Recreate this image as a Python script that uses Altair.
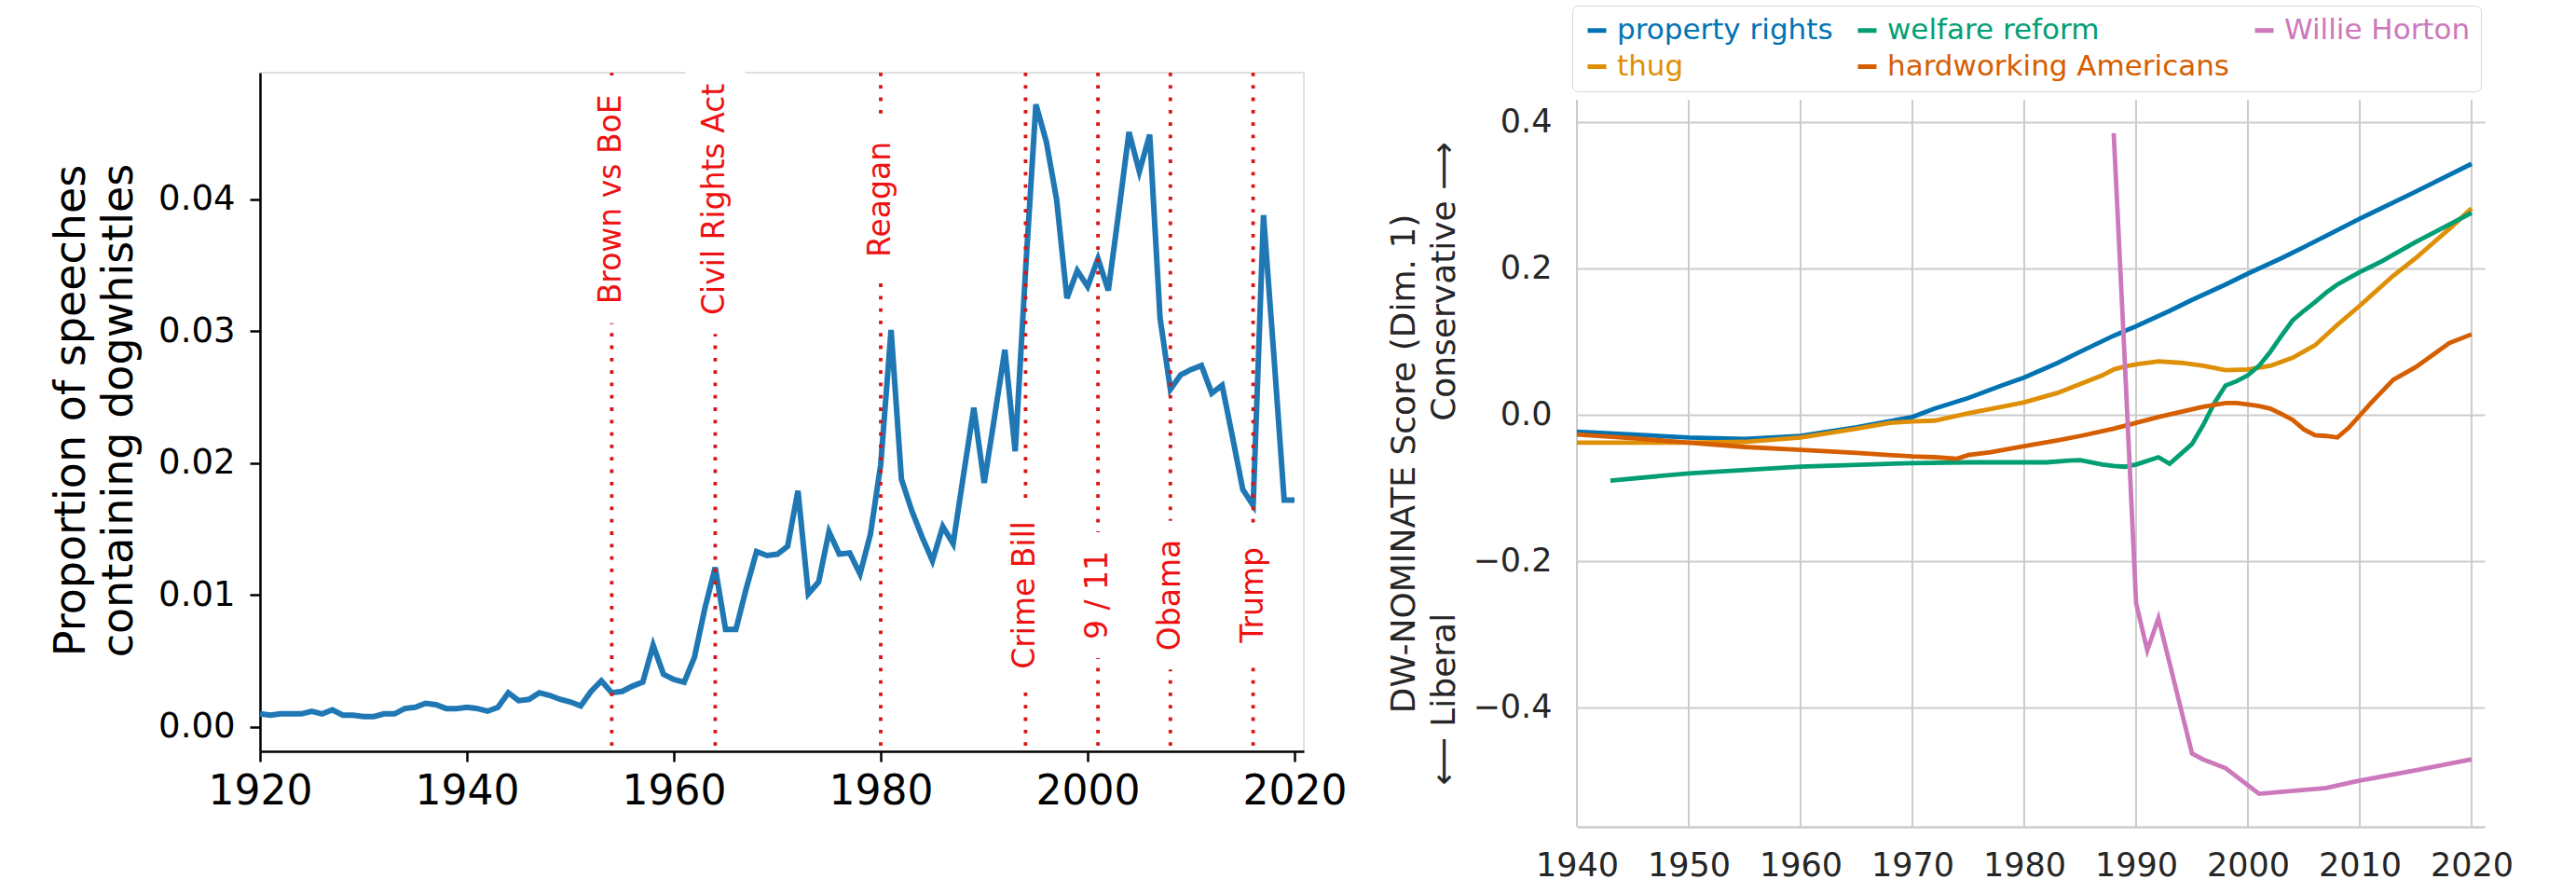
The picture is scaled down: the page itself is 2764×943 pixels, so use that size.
import altair as alt
import pandas as pd

# ---------------- Left panel data ----------------
left_years = list(range(1920, 2021))
dogwhistle_share = [
    0.0010, 0.0009, 0.0010, 0.0010, 0.0010, 0.0012, 0.0010, 0.0013, 0.0009, 0.0009,  # 1920s
    0.0008, 0.0008, 0.0010, 0.0010, 0.0014, 0.0015, 0.0018, 0.0017, 0.0014, 0.0014,  # 1930s
    0.0015, 0.0014, 0.0012, 0.0015, 0.0026, 0.0020, 0.0021, 0.0026, 0.0024, 0.0021,  # 1940s
    0.0019, 0.0016, 0.0027, 0.0035, 0.0026, 0.0027, 0.0031, 0.0034, 0.0062, 0.0040,  # 1950s
    0.0036, 0.0034, 0.0053, 0.0090, 0.0121, 0.0074, 0.0074, 0.0105, 0.0133, 0.0130,  # 1960s
    0.0131, 0.0137, 0.0179, 0.0101, 0.0110, 0.0148, 0.0131, 0.0132, 0.0116, 0.0146,  # 1970s
    0.0199, 0.0301, 0.0188, 0.0164, 0.0144, 0.0126, 0.0152, 0.0139, 0.0191, 0.0242,  # 1980s
    0.0185, 0.0235, 0.0286, 0.0209, 0.0346, 0.0472, 0.0444, 0.0400, 0.0325, 0.0346,  # 1990s
    0.0334, 0.0355, 0.0331, 0.0390, 0.0451, 0.0421, 0.0449, 0.0310, 0.0256, 0.0267,  # 2000s
    0.0271, 0.0274, 0.0253, 0.0259, 0.0220, 0.0180, 0.0168, 0.0388, 0.0282, 0.0172,  # 2010s
    0.0172,
]
event_names = ["Brown vs BoE", "Civil Rights Act", "Reagan", "Crime Bill", "9 / 11", "Obama", "Trump"]
event_years = [1954, 1964, 1980, 1994, 2001, 2008, 2016]
event_label_y = [0.04, 0.04, 0.04, 0.01, 0.01, 0.01, 0.01]
left_x_ticks = [1920, 1940, 1960, 1980, 2000, 2020]
left_y_ticks = [0.0, 0.01, 0.02, 0.03, 0.04]
left_y_title = ["Proportion of speeches", "containing dogwhistles"]

# ---------------- Right panel data ----------------
series_names = ["property rights", "thug", "welfare reform", "hardworking Americans", "Willie Horton"]
series_colors = ["#0173B2", "#DE8F05", "#029E73", "#D55E00", "#CC78BC"]
legend_order = ["property rights", "welfare reform", "Willie Horton", "thug", "hardworking Americans"]

pr_years = [1940, 1945, 1950, 1955, 1960, 1965, 1970, 1972, 1975, 1978, 1980, 1983, 1985, 1988,
            1990, 1993, 1995, 1998, 2000, 2003, 2005, 2010, 2015, 2020]
pr_vals = [-0.023, -0.027, -0.031, -0.033, -0.029, -0.017, -0.003, 0.0085, 0.023, 0.040, 0.051, 0.071,
           0.086, 0.108, 0.121, 0.142, 0.157, 0.178, 0.193, 0.214, 0.229, 0.268, 0.305, 0.343]

thug_years = [1940, 1945, 1950, 1955, 1960, 1965, 1968, 1970, 1972, 1975, 1978, 1980, 1983, 1985,
              1987, 1988, 1989, 1990, 1992, 1994, 1996, 1998, 2000, 2002, 2004, 2006, 2008, 2010,
              2013, 2015, 2018, 2020]
thug_vals = [-0.038, -0.038, -0.038, -0.037, -0.031, -0.019, -0.011, -0.009, -0.008, 0.002, 0.011,
             0.017, 0.030, 0.042, 0.054, 0.062, 0.066, 0.069, 0.073, 0.071, 0.067, 0.061, 0.062,
             0.067, 0.078, 0.095, 0.123, 0.149, 0.190, 0.214, 0.254, 0.282]

wr_years = [1943, 1950, 1960, 1970, 1975, 1980, 1982, 1984, 1985, 1987, 1988, 1989, 1990, 1992,
            1993, 1995, 1996, 1997, 1998, 1999, 2000, 2001, 2002, 2003, 2004, 2005, 2006, 2007,
            2008, 2010, 2012, 2015, 2020]
wr_vals = [-0.090, -0.080, -0.071, -0.066, -0.065, -0.065, -0.065, -0.0625, -0.062, -0.068, -0.070,
           -0.071, -0.068, -0.058, -0.067, -0.040, -0.014, 0.016, 0.040, 0.046, 0.054, 0.067,
           0.086, 0.108, 0.129, 0.142, 0.154, 0.167, 0.178, 0.195, 0.210, 0.236, 0.276]

hw_years = [1940, 1945, 1950, 1955, 1960, 1965, 1970, 1972, 1974, 1975, 1977, 1980, 1983, 1985,
            1988, 1990, 1992, 1994, 1996, 1998, 1999, 2000, 2001, 2002, 2003, 2004, 2005, 2006,
            2007, 2008, 2009, 2010, 2011, 2012, 2013, 2015, 2018, 2020]
hw_vals = [-0.027, -0.032, -0.038, -0.044, -0.048, -0.052, -0.057, -0.058, -0.060, -0.055, -0.051,
           -0.043, -0.035, -0.029, -0.019, -0.011, -0.003, 0.004, 0.011, 0.016, 0.016, 0.014,
           0.012, 0.0085, 0.001, -0.007, -0.020, -0.028, -0.029, -0.031, -0.018, -0.001, 0.016,
           0.032, 0.048, 0.065, 0.098, 0.110]

wh_years = [1988, 1989, 1990, 1991, 1992, 1995, 1996, 1998, 2001, 2007, 2010, 2015, 2020]
wh_vals = [0.385, 0.070, -0.257, -0.322, -0.278, -0.463, -0.471, -0.483, -0.518, -0.510, -0.500,
           -0.486, -0.471]

right_x_ticks = list(range(1940, 2021, 10))
right_y_ticks = [-0.4, -0.2, 0.0, 0.2, 0.4]
right_y_title = ["DW-NOMINATE Score (Dim. 1)",
                 "\u27f5 Liberal" + "\u00a0" * 18 + "Conservative \u27f6"]

# ---------------- Layout / style constants ----------------
FONT = "DejaVu Sans"
L_W, L_H = 1120, 728
L_XDOM = [1920, 2020.9]
L_YDOM = [-0.00184, 0.0496]
R_W, R_H = 974, 809
R_XDOM = [1940, 2021.17]
R_YDOM = [-0.5631, 0.4675]
R_PLOT_TOP = 0.4306
EVENT_FONT = 33

DEJAVU_W = {" ": .318, "B": .686, "r": .411, "o": .612, "w": .818, "n": .634, "v": .592, "s": .521,
            "E": .632, "C": .698, "i": .278, "l": .278, "R": .695, "g": .635, "h": .634, "t": .392,
            "A": .684, "c": .550, "e": .615, "a": .613, "m": .974, "b": .635, "M": .863, "u": .634,
            "p": .635, "T": .611, "9": .636, "1": .636, "/": .337, "O": .787}


def text_px(s, size):
    return sum(DEJAVU_W.get(ch, 0.6) for ch in s) * size


px_per_year = L_W / (L_XDOM[1] - L_XDOM[0])
px_per_unit = L_H / (L_YDOM[1] - L_YDOM[0])
box_half_w = 32 / px_per_year

ev_rows = []
for name, yr, ly in zip(event_names, event_years, event_label_y):
    half = (text_px(name, EVENT_FONT) / 2 + 20) / px_per_unit
    ev_rows.append({"name": name, "year": yr, "ly": ly,
                    "x1": yr - box_half_w, "x2": yr + box_half_w,
                    "y1": ly - half, "y2": ly + half})
ev_df = pd.DataFrame(ev_rows)
left_df = pd.DataFrame({"year": left_years, "share": dogwhistle_share})

lx_scale = alt.Scale(domain=L_XDOM, nice=False, zero=False)
ly_scale = alt.Scale(domain=L_YDOM, nice=False, zero=False)

left_x_axis = alt.Axis(values=left_x_ticks, format="d", title=None, grid=False,
                       labelFont=FONT, labelFontSize=44, labelColor="black", labelPadding=10,
                       labelFlush=False, labelOverlap=False,
                       tickSize=11, tickWidth=2.5, tickColor="black",
                       domainColor="black", domainWidth=2.5)
left_y_axis = alt.Axis(values=left_y_ticks, format=".2f", grid=False,
                       labelFont=FONT, labelFontSize=37, labelColor="black", labelPadding=16,
                       labelFlush=False, labelOverlap=False,
                       tickSize=11, tickWidth=2.5, tickColor="black",
                       domainColor="black", domainWidth=2.5,
                       title=left_y_title, titleFont=FONT, titleFontSize=46,
                       titleFontWeight="normal", titleColor="black", titleAngle=270,
                       titleX=-203, titleY=L_H / 2 - 2, titleAlign="center",
                       titleBaseline="middle", titleLineHeight=51)

LX = alt.X("year:Q", scale=lx_scale, axis=left_x_axis)
left_line = alt.Chart(left_df).mark_line(color="#1f77b4", strokeWidth=6).encode(
    x=LX,
    y=alt.Y("share:Q", scale=ly_scale, axis=left_y_axis),
)
left_rules = alt.Chart(ev_df).mark_rule(color="#d81414", strokeWidth=3.8,
                                        strokeDash=[3.8, 9.5]).encode(
    x=LX,
)
left_boxes = alt.Chart(ev_df).mark_rect(fill="white", strokeWidth=0).encode(
    x=alt.X("x1:Q", scale=lx_scale, axis=left_x_axis), x2="x2:Q",
    y=alt.Y("y1:Q", scale=ly_scale, axis=left_y_axis), y2="y2:Q",
)
left_text = alt.Chart(ev_df).mark_text(angle=270, font=FONT, fontSize=EVENT_FONT,
                                       color="#ee1111", align="center",
                                       baseline="middle").encode(
    x=LX,
    y=alt.Y("ly:Q", scale=ly_scale, axis=left_y_axis),
    text="name:N",
)
left_chart = alt.layer(left_line, left_rules, left_boxes, left_text).properties(
    width=L_W, height=L_H,
    view=alt.ViewBackground(stroke="#d6d6d6", strokeWidth=1.5, fill="white"),
)

# ---------------- Right chart ----------------
rows = []
for nm, yrs, vals in zip(series_names,
                         [pr_years, thug_years, wr_years, hw_years, wh_years],
                         [pr_vals, thug_vals, wr_vals, hw_vals, wh_vals]):
    for y_, v_ in zip(yrs, vals):
        rows.append({"term": nm, "year": y_, "score": v_})
right_df = pd.DataFrame(rows)
grid_df = pd.DataFrame({"year": right_x_ticks,
                        "score": [R_YDOM[0]] * len(right_x_ticks),
                        "hi": [R_PLOT_TOP] * len(right_x_ticks)})

color_of = dict(zip(series_names, series_colors))
legend_range = [color_of[n] for n in legend_order]
label_color_expr = ""
for n in legend_order[:-1]:
    label_color_expr += f"datum.value == '{n}' ? '{color_of[n]}' : "
label_color_expr += f"'{color_of[legend_order[-1]]}'"

rx_scale = alt.Scale(domain=R_XDOM, nice=False, zero=False)
ry_scale = alt.Scale(domain=R_YDOM, nice=False, zero=False)
GREY = "#cccccc"
TXT = "#262626"

right_x_axis = alt.Axis(values=right_x_ticks, format="d", title=None, grid=False, ticks=False,
                        labelFont=FONT, labelFontSize=35, labelColor=TXT, labelPadding=24,
                        labelFlush=False, labelOverlap=False,
                        domainColor=GREY, domainWidth=2.5)
right_y_axis = alt.Axis(values=right_y_ticks, format=".1f", grid=True, gridColor=GREY,
                        gridWidth=2, ticks=False, domain=False,
                        labelFont=FONT, labelFontSize=35, labelColor=TXT, labelPadding=27,
                        labelFlush=False, labelOverlap=False,
                        title=right_y_title, titleFont=FONT, titleFontSize=36,
                        titleFontWeight="normal", titleColor=TXT, titleAngle=270,
                        titleX=-186, titleY=419, titleAlign="center",
                        titleBaseline="middle", titleLineHeight=43)

RX = alt.X("year:Q", scale=rx_scale, axis=right_x_axis)
RY = alt.Y("score:Q", scale=ry_scale, axis=right_y_axis)

right_grid = alt.Chart(grid_df).mark_rule(color=GREY, strokeWidth=2).encode(
    x=RX, y=RY, y2="hi:Q",
)
right_lines = alt.Chart(right_df).mark_line(strokeWidth=4.8).encode(
    x=RX, y=RY,
    color=alt.Color("term:N",
                    scale=alt.Scale(domain=legend_order, range=legend_range),
                    legend=alt.Legend(orient="none", legendX=-5, legendY=-72,
                                      direction="horizontal", columns=3, title=None,
                                      symbolType="stroke", symbolStrokeWidth=5,
                                      symbolSize=400, labelOffset=6, columnPadding=16,
                                      rowPadding=7, padding=11, strokeColor="#d9d9d9",
                                      fillColor="white", cornerRadius=6, gridAlign="each",
                                      labelFont=FONT, labelFontSize=31, labelLimit=1000,
                                      labelColor={"expr": label_color_expr})),
    order=alt.Order("year:Q"),
)
right_chart = alt.layer(right_grid, right_lines).properties(
    width=R_W, height=R_H,
    view=alt.ViewBackground(stroke="transparent", fill="white"),
)

chart = alt.hconcat(left_chart, right_chart, spacing=41).resolve_scale(
    color="independent").resolve_legend(color="independent").properties(
    padding={"left": 52, "top": 5, "right": 5, "bottom": 0},
    background="white",
).configure(font=FONT)

chart.save("out.html", embed_options={"renderer": "svg", "actions": False})
